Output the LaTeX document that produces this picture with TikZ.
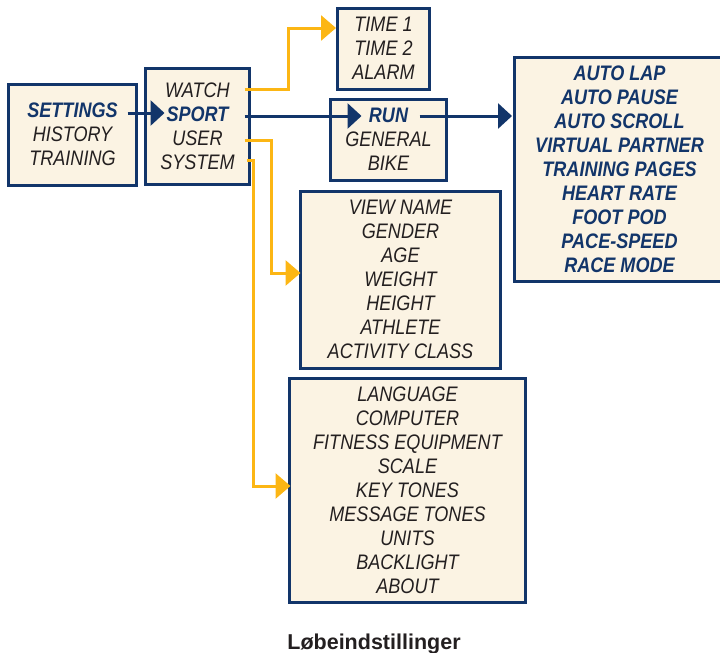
\documentclass[tikz,border=0pt]{standalone}
\usepackage{fontspec}
\setmainfont{Liberation Sans}
\newfontfamily\boxfont[FakeStretch=0.86]{Liberation Sans}
\usetikzlibrary{arrows.meta}
\definecolor{navy}{HTML}{12356A}
\definecolor{ylw}{HTML}{FCB614}
\definecolor{cream}{HTML}{FBF3E3}
\definecolor{txt}{HTML}{231F20}
\newcommand\hlt[1]{\textcolor{navy}{\bfseries #1}}
\newcommand\boxlines[1]{\raisebox{-2pt}[\height][\depth]{\begin{tabular}{@{}c@{}}#1\end{tabular}}}
\begin{document}
\begin{tikzpicture}[x=1pt,y=-1pt,
  box/.style={draw=navy, line width=3pt, fill=cream, align=center,
    font=\boxfont\itshape\fontsize{21}{24}\selectfont, text=txt, inner sep=0pt},
  narrow/.style={draw=navy, line width=3pt, -{Triangle[length=14pt,width=25pt]}},
  yarrow/.style={draw=ylw, line width=3pt, -{Triangle[length=15pt,width=25pt]}}]
\useasboundingbox (0,0) rectangle (720,653);
\clip (0,0) rectangle (720,653);
\node[box, minimum width=128pt, minimum height=101pt] (b1) at (72.5,135)
  {\boxlines{\hlt{SETTINGS}\\HISTORY\\TRAINING}};
\node[box, minimum width=104pt, minimum height=116pt] (b2) at (197.5,126.5)
  {\boxlines{WATCH\\\hlt{SPORT}\\USER\\SYSTEM}};
\node[box, minimum width=92pt, minimum height=81pt] (time) at (383.5,49)
  {\boxlines{TIME 1\\TIME 2\\ALARM}};
\node[box, minimum width=116pt, minimum height=81pt] (run) at (388.5,140)
  {\boxlines{\hlt{RUN}\\GENERAL\\BIKE}};
\node[box, minimum width=220pt, minimum height=224pt, text=navy,
  font=\boxfont\bfseries\itshape\fontsize{21}{24}\selectfont] (auto) at (624.5,169.5)
  {\hspace*{-10pt}\boxlines{AUTO LAP\\AUTO PAUSE\\AUTO SCROLL\\VIRTUAL PARTNER\\TRAINING PAGES\\HEART RATE\\FOOT POD\\PACE-SPEED\\RACE MODE}};
\node[box, minimum width=200pt, minimum height=177pt] (view) at (400.5,280)
  {\boxlines{VIEW NAME\\GENDER\\AGE\\WEIGHT\\HEIGHT\\ATHLETE\\ACTIVITY CLASS}};
\node[box, minimum width=236pt, minimum height=224pt] (lang) at (407.5,490.5)
  {\boxlines{LANGUAGE\\COMPUTER\\FITNESS EQUIPMENT\\SCALE\\KEY TONES\\MESSAGE TONES\\UNITS\\BACKLIGHT\\ABOUT}};
\node[anchor=base, font=\bfseries\fontsize{21.5}{24}\selectfont, text=txt, inner sep=0pt] (cap) at (374,649) {Løbeindstillinger};
% navy arrows
\draw[narrow] ([xshift=-10.5pt,yshift=22pt]b1.east) -- ([xshift=20.5pt,yshift=13.5pt]b2.west);
\draw[narrow] ([xshift=-6.5pt,yshift=10.5pt]b2.east) -- ([xshift=32.5pt,yshift=24pt]run.west);
\draw[narrow] ([xshift=-28.5pt,yshift=24pt]run.east) -- ([xshift=-1pt,yshift=53.5pt]auto.west);
% yellow arrows
\draw[yarrow] ([xshift=-6.5pt,yshift=37.5pt]b2.east) -- ++(44,0) |- ([yshift=21pt]time.west);
\draw[yarrow] ([xshift=-6.5pt,yshift=-13.5pt]b2.east) -- ++(27,0) |- ([xshift=1.5pt,yshift=7pt]view.west);
\draw[yarrow] ([xshift=-4.5pt,yshift=-33.5pt]b2.east) -- ++(7,0) |- ([xshift=2.5pt,yshift=4.5pt]lang.west);
\end{tikzpicture}
\end{document}
